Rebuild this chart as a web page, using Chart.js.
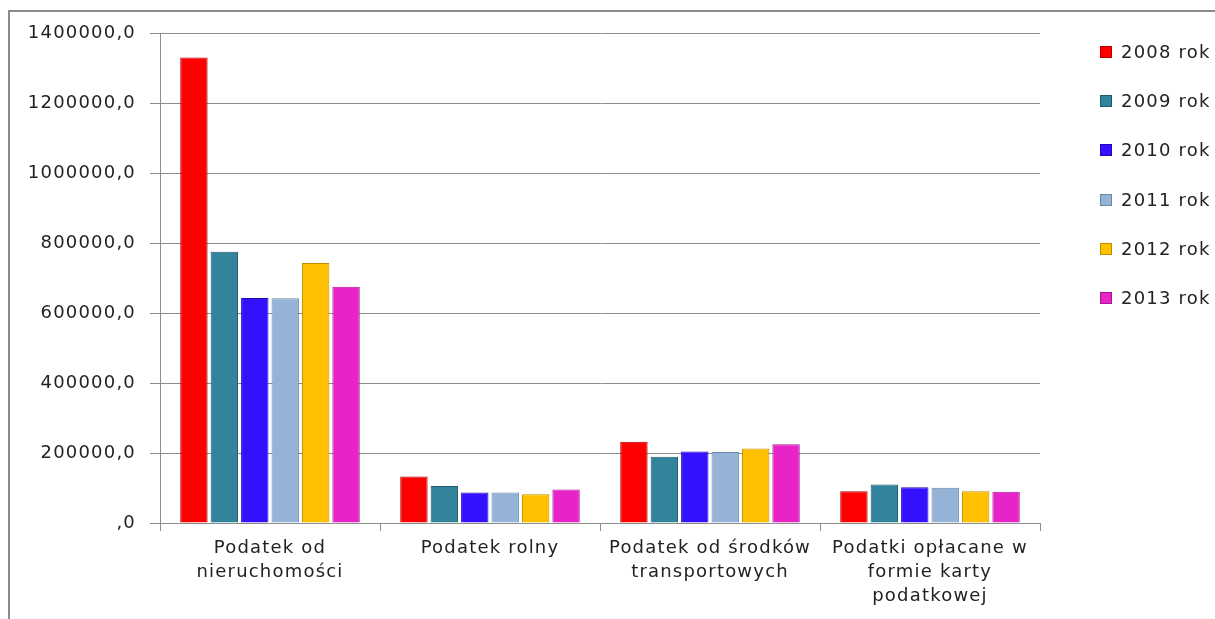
<!DOCTYPE html>
<html>
<head>
<meta charset="utf-8">
<script src="https://cdn.jsdelivr.net/npm/chart.js@4.4.0/dist/chart.umd.min.js"></script>
<style>
  body { margin: 0; background: #fff; overflow: hidden; }
  #frame { position: absolute; left: 8px; top: 10px; width: 1230px; height: 640px;
           border-left: 2px solid #8a8a8a; border-top: 2px solid #8a8a8a; }
  #wrap { position: absolute; left: 0; top: 0; width: 1215px; height: 619px; }
  #legend { position: absolute; left: 1100px; top: 42px; font-family: "DejaVu Sans"; font-size: 18px;
            letter-spacing: 1.2px; color: #222; }
  .item { height: 49.2px; display: flex; align-items: flex-start; line-height: 20px; }
  .sw { width: 12px; height: 12px; margin: 4px 9px 0 0; box-sizing: border-box; }
</style>
</head>
<body>
<div id="frame"></div>
<div id="wrap"><canvas id="myChart"></canvas></div>
<div id="legend"></div>
<script>
  // categories and series
  var categories = [
    ["Podatek od", "nieruchomości"],
    "Podatek rolny",
    ["Podatek od środków", "transportowych"],
    ["Podatki opłacane w", "formie karty", "podatkowej"]
  ];
  var years = ["2008 rok", "2009 rok", "2010 rok", "2011 rok", "2012 rok", "2013 rok"];
  var v2008 = [1330000, 133000, 232000, 91000];
  var v2009 = [775000, 106000, 189000, 110000];
  var v2010 = [643000, 87000, 204000, 102000];
  var v2011 = [642000, 87000, 203000, 101000];
  var v2012 = [743000, 82000, 213000, 91000];
  var v2013 = [675000, 96000, 225000, 89000];
  var yTicks = [0, 200000, 400000, 600000, 800000, 1000000, 1200000, 1400000];

  var barColors = ["#FF0000", "#31849B", "#3311FF", "#95B3D7", "#FFC000", "#E824C8"];
  var edgeColors = ["#B00000", "#1F5A6A", "#2008B0", "#6A86A8", "#C08E00", "#A81890"];
  var series = [v2008, v2009, v2010, v2011, v2012, v2013];

  var font = { family: "DejaVu Sans", size: 18, lineHeight: 1.33 };

  // widen text a little, the original font is stretched
  var spacing = {
    id: "spacing",
    beforeUpdate: function(chart) { chart.ctx.letterSpacing = "1.2px"; },
    beforeDraw: function(chart) { chart.ctx.letterSpacing = "1.2px"; }
  };

  new Chart("myChart", {
    type: "bar",
    plugins: [spacing],
    data: {
      labels: categories,
      datasets: series.map(function(vals, i) {
        return {
          label: years[i],
          data: vals,
          backgroundColor: barColors[i],
          borderColor: edgeColors[i],
          borderWidth: 1,
          barPercentage: 0.9,
          categoryPercentage: 0.83
        };
      })
    },
    options: {
      responsive: true,
      maintainAspectRatio: false,
      animation: false,
      layout: { padding: { top: 33, right: 175, left: 0, bottom: 0 } },
      plugins: { legend: { display: false }, tooltip: { enabled: false } },
      scales: {
        y: {
          min: 0,
          max: 1400000,
          afterBuildTicks: function(scale) {
            scale.ticks = yTicks.map(function(v) { return { value: v }; });
          },
          afterFit: function(scale) { scale.width = 160; },
          grid: { color: "#8c8c8c", lineWidth: 1, tickLength: 10 },
          border: { color: "#8c8c8c" },
          ticks: {
            color: "#222",
            font: font,
            padding: 14,
            callback: function(v) { return v === 0 ? ",0" : v + ",0"; }
          }
        },
        x: {
          afterFit: function(scale) { scale.height = 96; },
          grid: { drawOnChartArea: false, color: "#8c8c8c", tickLength: 8, offset: true },
          border: { color: "#8c8c8c" },
          ticks: { color: "#222", font: font, padding: 5, maxRotation: 0, autoSkip: false }
        }
      }
    }
  });

  // legend
  var legend = document.getElementById("legend");
  years.forEach(function(y, i) {
    var item = document.createElement("div");
    item.className = "item";
    item.innerHTML = '<div class="sw" style="background:' + barColors[i] + ';border:1px solid ' + edgeColors[i] + '"></div><span>' + y + '</span>';
    legend.appendChild(item);
  });
</script>
</body>
</html>
